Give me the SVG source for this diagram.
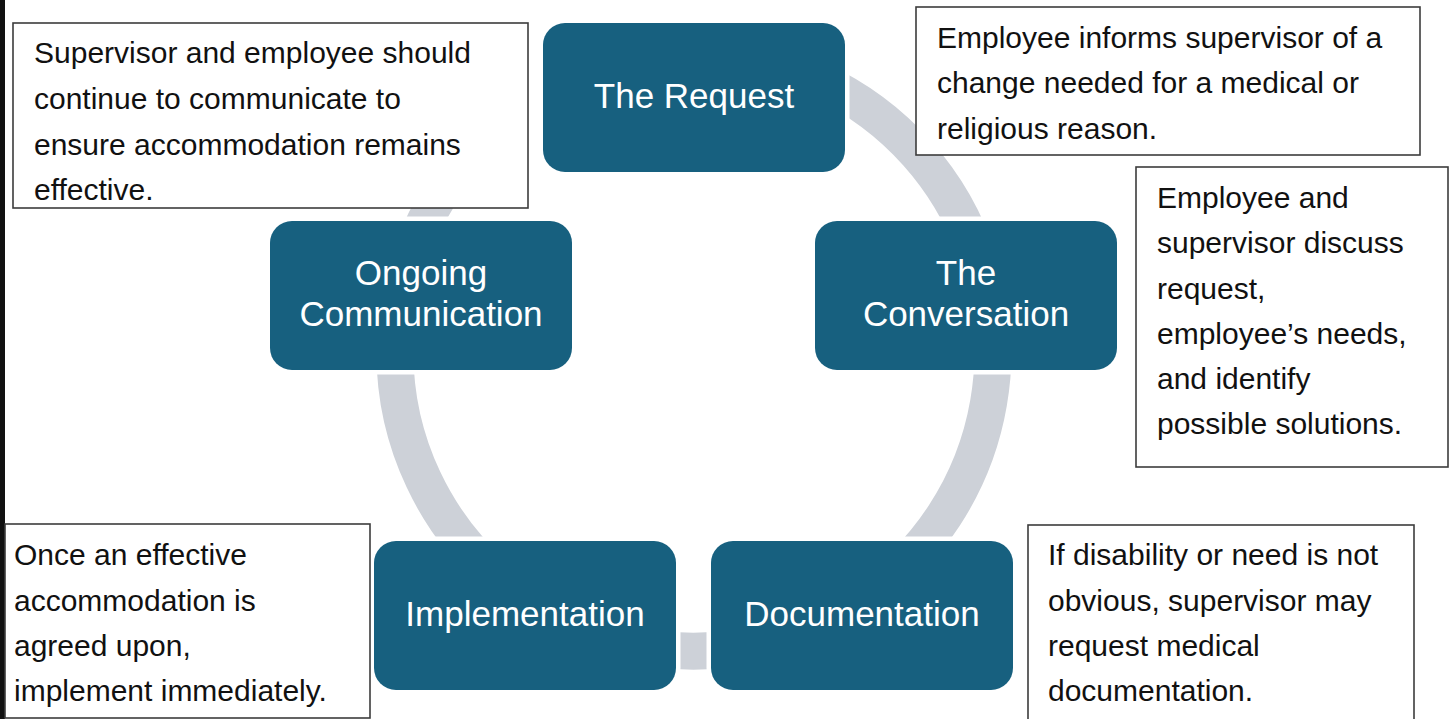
<svg xmlns="http://www.w3.org/2000/svg" width="1455" height="719" viewBox="0 0 1455 719">
  <style>
    .step { fill: #17607F; stroke: #ffffff; stroke-width: 9; paint-order: stroke; }
    .step-label { font-family: "Liberation Sans", Arial, sans-serif; font-size: 35px; fill: #ffffff; text-anchor: middle; }
    .note { fill: #ffffff; stroke: #3c3c3c; stroke-width: 1.6; }
    .note-text { font-family: "Liberation Sans", Arial, sans-serif; font-size: 30px; fill: #111111; }
    .ring { fill: none; stroke: #CDD1D8; stroke-width: 37; }
  </style>

  <rect x="0" y="0" width="1455" height="719" fill="#ffffff"/>
  <!-- dark page edge on the left -->
  <rect x="0" y="0" width="5" height="719" fill="#111111"/>

  <!-- cycle connectors: one open arc around the steps, centre (694,352), r 299 -->
  <g id="connectors">
    <path class="ring" d="M 500 124.5 A 299 299 0 1 0 820 81"/>
  </g>

  <!-- cycle steps -->
  <g id="node-request">
    <rect class="step" x="543" y="23" width="302" height="149" rx="22"/>
    <text class="step-label" x="694" y="108">The Request</text>
  </g>
  <g id="node-conversation">
    <rect class="step" x="815" y="221" width="302" height="149" rx="22"/>
    <text class="step-label" x="966" y="285">The</text>
    <text class="step-label" x="966" y="326">Conversation</text>
  </g>
  <g id="node-documentation">
    <rect class="step" x="711" y="541" width="302" height="149" rx="22"/>
    <text class="step-label" x="862" y="626">Documentation</text>
  </g>
  <g id="node-implementation">
    <rect class="step" x="374" y="541" width="302" height="149" rx="22"/>
    <text class="step-label" x="525" y="626">Implementation</text>
  </g>
  <g id="node-ongoing">
    <rect class="step" x="270" y="221" width="302" height="149" rx="22"/>
    <text class="step-label" x="421" y="285">Ongoing</text>
    <text class="step-label" x="421" y="326">Communication</text>
  </g>

  <!-- explanatory notes -->
  <g id="note-ongoing">
    <rect class="note" x="13" y="23" width="515" height="185"/>
    <text class="note-text" x="34" y="63">Supervisor and employee should</text>
    <text class="note-text" x="34" y="109">continue to communicate to</text>
    <text class="note-text" x="34" y="155">ensure accommodation remains</text>
    <text class="note-text" x="34" y="200">effective.</text>
  </g>
  <g id="note-request">
    <rect class="note" x="916" y="7" width="504" height="148"/>
    <text class="note-text" x="937" y="48">Employee informs supervisor of a</text>
    <text class="note-text" x="937" y="93">change needed for a medical or</text>
    <text class="note-text" x="937" y="139">religious reason.</text>
  </g>
  <g id="note-conversation">
    <rect class="note" x="1136" y="167" width="312" height="300"/>
    <text class="note-text" x="1157" y="208">Employee and</text>
    <text class="note-text" x="1157" y="253">supervisor discuss</text>
    <text class="note-text" x="1157" y="299">request,</text>
    <text class="note-text" x="1157" y="344">employee’s needs,</text>
    <text class="note-text" x="1157" y="389">and identify</text>
    <text class="note-text" x="1157" y="434">possible solutions.</text>
  </g>
  <g id="note-documentation">
    <rect class="note" x="1028" y="525" width="386" height="200"/>
    <text class="note-text" x="1048" y="565">If disability or need is not</text>
    <text class="note-text" x="1048" y="611">obvious, supervisor may</text>
    <text class="note-text" x="1048" y="656">request medical</text>
    <text class="note-text" x="1048" y="701">documentation.</text>
  </g>
  <g id="note-implementation">
    <rect class="note" x="5" y="524" width="365" height="194"/>
    <text class="note-text" x="14" y="565">Once an effective</text>
    <text class="note-text" x="14" y="611">accommodation is</text>
    <text class="note-text" x="14" y="656">agreed upon,</text>
    <text class="note-text" x="14" y="701">implement immediately.</text>
  </g>
</svg>
